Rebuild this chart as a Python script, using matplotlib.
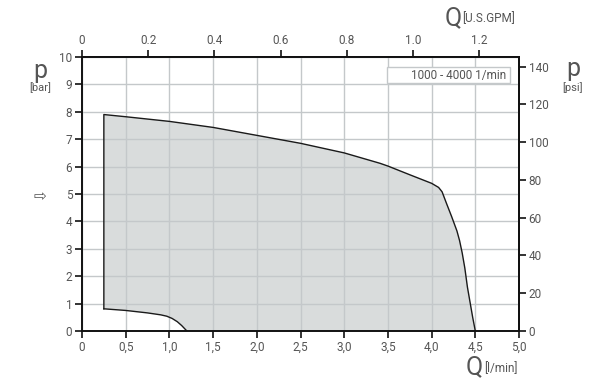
import matplotlib
matplotlib.use("Agg")
import matplotlib.pyplot as plt
from matplotlib.patches import Rectangle, Polygon

plt.rcParams['font.family'] = ['Roboto', 'DejaVu Sans']

# ---- data ----
upper_q = [0.25, 0.5, 1.0, 1.5, 2.0, 2.5, 3.0, 3.41, 3.5, 3.76, 4.0, 4.08, 4.12, 4.17, 4.23,
           4.29, 4.32, 4.35, 4.38, 4.41, 4.44, 4.47, 4.5]
upper_p = [7.9, 7.82, 7.65, 7.43, 7.14, 6.85, 6.5, 6.12, 6.02, 5.69, 5.39, 5.24, 5.08, 4.66, 4.17,
           3.65, 3.3, 2.85, 2.3, 1.6, 1.05, 0.5, 0.0]
lower_q = [0.25, 0.5, 0.75, 0.9, 0.97, 1.03, 1.09, 1.14, 1.2]
lower_p = [0.81, 0.75, 0.66, 0.59, 0.54, 0.46, 0.34, 0.2, 0.0]

x_ticks = [0, 0.5, 1.0, 1.5, 2.0, 2.5, 3.0, 3.5, 4.0, 4.5, 5.0]
x_labels = ["0", "0,5", "1,0", "1,5", "2,0", "2,5", "3,0", "3,5", "4,0", "4,5", "5,0"]
y_ticks = list(range(0, 11))
gpm_ticks = [0, 0.2, 0.4, 0.6, 0.8, 1.0, 1.2]
gpm_labels = ["0", "0.2", "0.4", "0.6", "0.8", "1.0", "1.2"]
psi_ticks = [0, 20, 40, 60, 80, 100, 120, 140]
legend_text = "1000 - 4000 1/min"

LPM_PER_GPM = 3.78541
PSI_PER_BAR = 14.5038

tc = '#555555'
fig = plt.figure(figsize=(6, 3.8), dpi=100)
ax = fig.add_axes([82/600, 1-331/380, (519-82)/600, (331-57)/380])
ax.set_xlim(0, 5)
ax.set_ylim(0, 10)

# fill polygon
pts = [(upper_q[0], lower_p[0])] + list(zip(upper_q, upper_p)) + list(zip(lower_q[::-1], lower_p[::-1]))
poly = Polygon(pts, closed=True, facecolor='#d9dcdc', edgecolor='none', zorder=1)
ax.add_patch(poly)
ax.plot([upper_q[0]] + upper_q, [lower_p[0]] + upper_p, color='#1a1a1a', lw=1.0, zorder=3,
        solid_joinstyle='round')
ax.plot(lower_q, lower_p, color='#1a1a1a', lw=1.0, zorder=3, solid_joinstyle='round')

ax.set_xticks(x_ticks)
ax.set_xticklabels(x_labels)
ax.set_yticks(y_ticks)
ax.grid(True, color='#c4c8ca', lw=1.0, zorder=2)
ax.set_axisbelow(False)
for ln in ax.get_xgridlines() + ax.get_ygridlines():
    ln.set_zorder(2)

for s in ax.spines.values():
    s.set_color('#111111')
    s.set_linewidth(1.4)
    s.set_zorder(5)
ax.tick_params(direction='out', length=5, width=1.2, color='#111111', labelcolor=tc, labelsize=8.5, pad=2)

secx = ax.secondary_xaxis('top', functions=(lambda q: q / LPM_PER_GPM, lambda g: g * LPM_PER_GPM))
secx.set_xticks(gpm_ticks)
secx.set_xticklabels(gpm_labels)
secx.tick_params(direction='out', length=5, width=1.2, color='#111111', labelcolor=tc, labelsize=8.5, pad=2)

secy = ax.secondary_yaxis('right', functions=(lambda b: b * PSI_PER_BAR, lambda p: p / PSI_PER_BAR))
secy.set_yticks(psi_ticks)
secy.tick_params(direction='out', length=5, width=1.2, color='#111111', labelcolor=tc, labelsize=8.5, pad=2)
for s in list(secx.spines.values()) + list(secy.spines.values()):
    s.set_color('#111111')
    s.set_linewidth(1.4)

# legend box
rect = Rectangle((387, 380-83), 123, 16, transform=None, facecolor='white',
                 edgecolor='#c4c8ca', lw=1.0, zorder=6)
ax.add_artist(rect)
fig.text(506/600, 1-75/380, legend_text, ha='right', va='center', fontsize=8.5, color=tc, zorder=7)

# axis labels
big = dict(ha='center', va='baseline', fontsize=18, color=tc, fontweight='normal')
fig.text(40/600, 1-78/380, "p", **big)
fig.text(40/600, 1-88/380, "[bar]", ha='center', va='center', fontsize=8, color=tc)
fig.text(573/600, 1-76/380, "p", **big)
fig.text(573/600, 1-88/380, "[psi]", ha='center', va='center', fontsize=8, color=tc)
fig.text(453/600, 1-25/380, "Q", **big)
fig.text(462/600, 1-19/380, "[U.S.GPM]", ha='left', va='center', fontsize=8.5, color=tc)
fig.text(474/600, 1-374/380, "Q", **big)
fig.text(484/600, 1-369/380, "[l/min]", ha='left', va='center', fontsize=8.5, color=tc)
fig.text(40/600, 1-197/380, "\u21e8", ha='center', va='center', fontsize=11, color=tc, family='DejaVu Sans')

fig.savefig("out.png", dpi=100)
